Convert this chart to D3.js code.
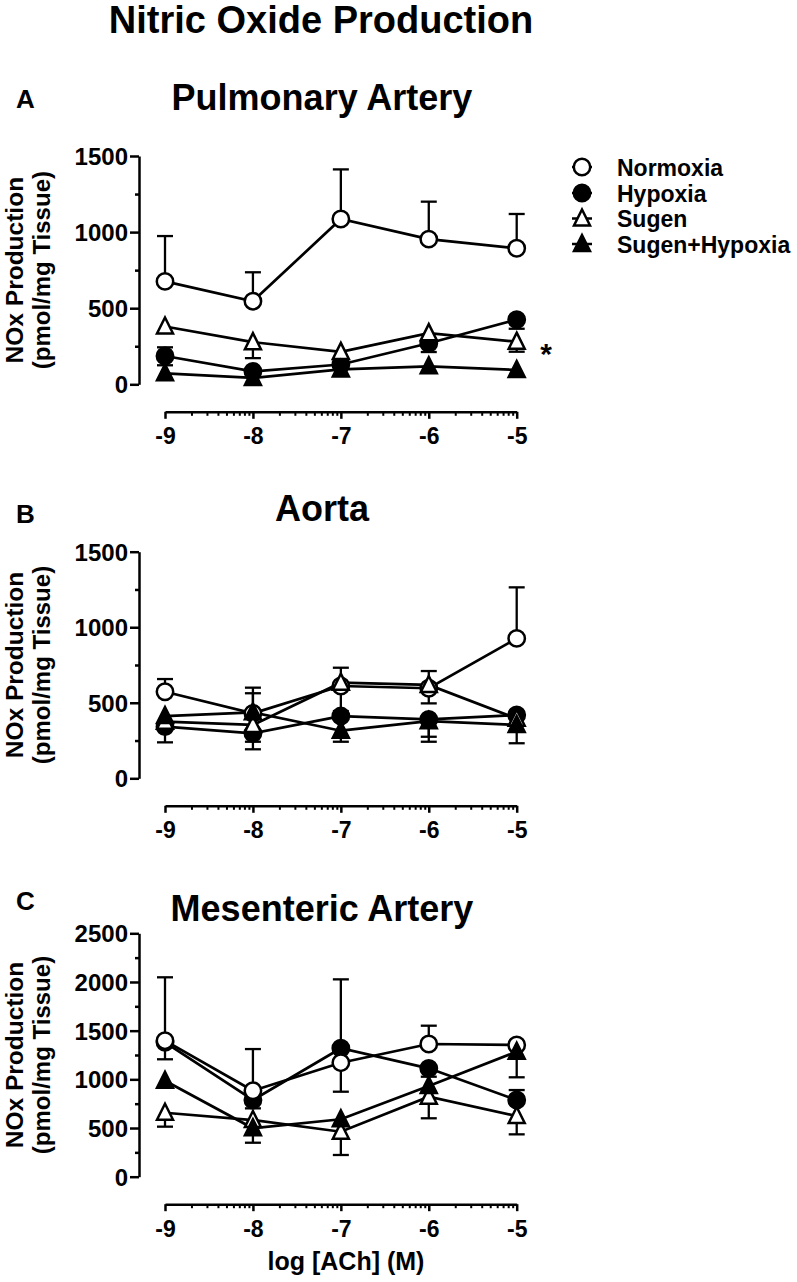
<!DOCTYPE html>
<html>
<head>
<meta charset="utf-8">
<script src="https://cdn.jsdelivr.net/npm/d3@7"></script>
<style>
  body { margin: 0; background: #fff; }
  svg text { font-family: "Liberation Sans", Arial, sans-serif; font-weight: bold; fill: #000; }
</style>
</head>
<body>
<svg id="chart" width="797" height="1282"></svg>
<script>
// ---- data ----
const doses = [-9, -8, -7, -6, -5];
const groups = ["Normoxia", "Hypoxia", "Sugen", "Sugen+Hypoxia"];
const ticksPA = [0, 500, 1000, 1500];
const ticksAO = [0, 500, 1000, 1500];
const ticksMA = [0, 500, 1000, 1500, 2000, 2500];

// Pulmonary artery (mean, error-bar top, error-bar bottom)
const paNormoxia = [676, 546, 1086, 954, 894];
const paNormoxiaHi = [974, 736, 1412, 1200, 1119];
const paNormoxiaLo = [null, null, null, null, null];
const paHypoxia = [186, 85, 130, 270, 425];
const paHypoxiaHi = [243, null, null, null, null];
const paHypoxiaLo = [125, null, null, 212, 365];
const paSugen = [380, 277, 213, 336, 280];
const paSugenHi = [null, null, null, null, null];
const paSugenLo = [null, 172, null, null, 214];
const paSugenHyp = [72, 42, 98, 118, 94];
const paSugenHypHi = [null, null, null, null, null];
const paSugenHypLo = [null, null, null, null, null];

// Aorta
const aoNormoxia = [573, 430, 611, 596, 926];
const aoNormoxiaHi = [657, 600, null, null, 1264];
const aoNormoxiaLo = [null, null, 445, 496, null];
const aoHypoxia = [342, 298, 412, 390, 419];
const aoHypoxiaHi = [null, null, null, null, null];
const aoHypoxiaLo = [238, 192, null, 275, null];
const aoSugen = [375, 353, 633, 618, 395];
const aoSugenHi = [null, null, 732, 710, null];
const aoSugenLo = [null, 242, null, null, null];
const aoSugenHyp = [412, 437, 315, 378, 353];
const aoSugenHypHi = [null, 563, null, null, null];
const aoSugenHypLo = [null, null, 242, 242, 232];

// Mesenteric artery
const maNormoxia = [1397, 883, 1171, 1363, 1353];
const maNormoxiaHi = [2048, 1311, null, 1551, null];
const maNormoxiaLo = [1206, null, 873, null, null];
const maHypoxia = [1380, 788, 1319, 1113, 788];
const maHypoxiaHi = [null, null, 2027, null, 890];
const maHypoxiaLo = [null, 702, null, 1027, null];
const maSugen = [657, 582, 462, 822, 623];
const maSugenHi = [null, null, null, null, null];
const maSugenLo = [514, null, 223, 600, 435];
const maSugenHyp = [986, 497, 590, 932, 1284];
const maSugenHypHi = [null, null, null, null, null];
const maSugenHypLo = [null, 349, null, 757, 1021];

// ---- layout ----
const svg = d3.select("#chart");
const axisX = 139;
const x = d3.scaleLinear().domain([-9, -5]).range([165, 516.7]);
const minorX = [];
doses.slice(0, 4).forEach(d => { for (let k = 2; k <= 9; k++) minorX.push(d + Math.log10(k)); });

// marker styles per group, and the order the groups are painted in
const filled = [false, true, false, true];
const shape = ["circle", "circle", "triangle", "triangle"];
const paintOrder = [1, 0, 2, 3];

const panels = [
  { letter: "A", title: "Pulmonary Artery", letterY: 108, titleY: 110, top: 156, bottom: 384.3, yMax: 1500, ticks: ticksPA,
    series: [[paNormoxia, paNormoxiaHi, paNormoxiaLo], [paHypoxia, paHypoxiaHi, paHypoxiaLo], [paSugen, paSugenHi, paSugenLo], [paSugenHyp, paSugenHypHi, paSugenHypLo]] },
  { letter: "B", title: "Aorta", letterY: 523, titleY: 521, top: 551.7, bottom: 778.3, yMax: 1500, ticks: ticksAO,
    series: [[aoNormoxia, aoNormoxiaHi, aoNormoxiaLo], [aoHypoxia, aoHypoxiaHi, aoHypoxiaLo], [aoSugen, aoSugenHi, aoSugenLo], [aoSugenHyp, aoSugenHypHi, aoSugenHypLo]] },
  { letter: "C", title: "Mesenteric Artery", letterY: 910, titleY: 921, top: 933.3, bottom: 1176.7, yMax: 2500, ticks: ticksMA,
    series: [[maNormoxia, maNormoxiaHi, maNormoxiaLo], [maHypoxia, maHypoxiaHi, maHypoxiaLo], [maSugen, maSugenHi, maSugenLo], [maSugenHyp, maSugenHypHi, maSugenHypLo]] }
];

function drawMarker(g, i, cx, cy) {
  if (shape[i] === "circle") {
    g.append("circle").attr("cx", cx).attr("cy", cy).attr("r", 8.2)
      .attr("fill", filled[i] ? "#000" : "#fff").attr("stroke", "#000").attr("stroke-width", 2.5);
  } else {
    g.append("path")
      .attr("d", `M${cx},${cy - 9}L${cx + 8},${cy + 7}L${cx - 8},${cy + 7}Z`)
      .attr("fill", filled[i] ? "#000" : "#fff").attr("stroke", "#000").attr("stroke-width", 2.5)
      .attr("stroke-linejoin", "miter");
  }
}

// title
svg.append("text").attr("x", 321).attr("y", 33).attr("text-anchor", "middle")
  .style("font-size", "38px").text("Nitric Oxide Production");

panels.forEach((p, pi) => {
  const y = d3.scaleLinear().domain([0, p.yMax]).range([p.bottom, p.top]);
  const g = svg.append("g");

  g.append("text").attr("x", 16).attr("y", p.letterY).style("font-size", "26px").text(p.letter);
  g.append("text").attr("x", 322).attr("y", p.titleY).attr("text-anchor", "middle")
    .style("font-size", "36px").text(p.title);

  // y axis
  const ya = g.append("g").attr("transform", `translate(${axisX},0)`)
    .call(d3.axisLeft(y).tickValues(p.ticks).tickSize(9).tickSizeOuter(0).tickPadding(2).tickFormat(d => String(d)));
  ya.selectAll("text").style("font-size", "24px").attr("dy", "0.36em");
  const minorY = d3.range(250, p.yMax, 500);
  const ym = g.append("g").attr("transform", `translate(${axisX},0)`)
    .call(d3.axisLeft(y).tickValues(minorY).tickSize(4).tickSizeOuter(0).tickFormat(""));
  ym.select(".domain").remove();
  g.selectAll(".domain, .tick line").attr("stroke", "#000").attr("stroke-width", 2.5);

  // y label
  const cy = (p.top + p.bottom) / 2;
  g.append("text").attr("transform", `translate(23,${cy}) rotate(-90)`).attr("text-anchor", "middle")
    .style("font-size", "24.5px").text("NOx Production");
  g.append("text").attr("transform", `translate(50,${cy}) rotate(-90)`).attr("text-anchor", "middle")
    .style("font-size", "24px").text("(pmol/mg Tissue)");

  // x axis (offset below plot)
  const xAxisY = p.bottom + 27.5;
  const xa = g.append("g").attr("transform", `translate(0,${xAxisY})`)
    .call(d3.axisBottom(x).tickValues(doses).tickSize(7).tickSizeOuter(0).tickPadding(9).tickFormat(d => String(d)));
  xa.selectAll("text").style("font-size", "23px");
  const xm = g.append("g").attr("transform", `translate(0,${xAxisY})`)
    .call(d3.axisBottom(x).tickValues(minorX).tickSize(4).tickFormat(""));
  xm.select(".domain").remove();
  xa.selectAll(".domain, .tick line").attr("stroke", "#000").attr("stroke-width", 2.5);
  xm.selectAll(".tick line").attr("stroke", "#000").attr("stroke-width", 2);

  // lines
  const line = d3.line().x((d, i) => x(doses[i])).y(d => y(d));
  paintOrder.forEach(si => {
    g.append("path").attr("d", line(p.series[si][0])).attr("fill", "none")
      .attr("stroke", "#000").attr("stroke-width", 2.7);
  });

  // error bars
  paintOrder.forEach(si => {
    const s = p.series[si];
    [s[1], s[2]].forEach(ends => {
      ends.forEach((e, i) => {
        if (e == null) return;
        const px = x(doses[i]);
        g.append("line").attr("x1", px).attr("x2", px).attr("y1", y(s[0][i])).attr("y2", y(e))
          .attr("stroke", "#000").attr("stroke-width", 2.3);
        g.append("line").attr("x1", px - 8).attr("x2", px + 8).attr("y1", y(e)).attr("y2", y(e))
          .attr("stroke", "#000").attr("stroke-width", 2.3);
      });
    });
  });

  // markers
  paintOrder.forEach(si => {
    p.series[si][0].forEach((v, i) => drawMarker(g, si, x(doses[i]), y(v)));
  });

  if (pi === 0) {
    g.append("text").attr("x", 546).attr("y", 364).attr("text-anchor", "middle")
      .style("font-size", "30px").text("*");
  }
  if (pi === 2) {
    g.append("text").attr("x", 346).attr("y", 1270).attr("text-anchor", "middle")
      .style("font-size", "25px").text("log [ACh] (M)");
  }
});

// legend
const legend = svg.append("g");
const legendY = [167, 193, 218.5, 244];
groups.forEach((name, i) => {
  legend.append("line").attr("x1", 572).attr("x2", 592).attr("y1", legendY[i]).attr("y2", legendY[i])
    .attr("stroke", "#000").attr("stroke-width", 2.5);
  drawMarker(legend, i, 582, legendY[i]);
  legend.append("text").attr("x", 617).attr("y", legendY[i] + 8.5)
    .style("font-size", "23px").text(name);
});
</script>
</body>
</html>
